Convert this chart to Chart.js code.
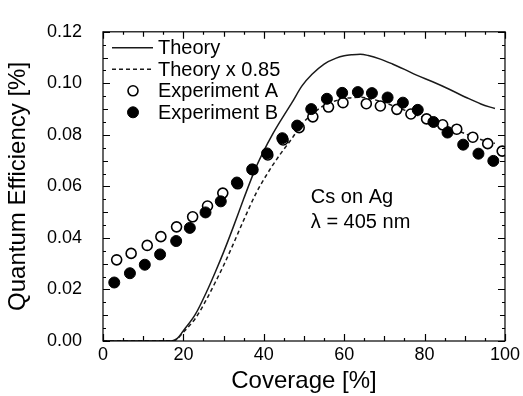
<!DOCTYPE html>
<html>
<head>
<meta charset="utf-8">
<script src="https://cdn.jsdelivr.net/npm/chart.js@4/dist/chart.umd.min.js"></script>
<style>
  body { margin: 0; background: #fff; }
  canvas { display: block; }
</style>
</head>
<body>
<canvas id="qeChart" width="523" height="396"></canvas>
<script>
/* Data */
const theoryX = [0, 5, 10, 15, 17, 18.5, 20, 23, 25.8, 28, 30, 32.4, 35, 38, 40, 42, 44, 47, 49.5, 52, 55, 58, 60, 62, 64, 66, 69, 72, 75, 78, 82, 86, 90.5, 94, 97.5];
const theoryY = [0, 0, 0, 0, 0, 0.001, 0.004, 0.0104, 0.0192, 0.027, 0.0345, 0.0442, 0.0552, 0.0672, 0.0738, 0.0797, 0.085, 0.0925, 0.099, 0.1035, 0.1075, 0.1098, 0.1107, 0.1111, 0.1113, 0.1108, 0.1094, 0.1075, 0.1054, 0.1032, 0.1006, 0.0978, 0.0944, 0.092, 0.0902];
const theory85Y = [0, 0, 0, 0, 0, 0.00085, 0.0034, 0.0088, 0.0163, 0.023, 0.0293, 0.0376, 0.0469, 0.0571, 0.0627, 0.0677, 0.0723, 0.0786, 0.0842, 0.088, 0.0914, 0.0933, 0.0941, 0.0944, 0.0946, 0.0942, 0.093, 0.0914, 0.0896, 0.0877, 0.0855, 0.0831, 0.0802, 0.0782, 0.0767];

const expAX = [3.4, 7.0, 11.0, 14.4, 18.3, 22.3, 26.0, 29.8, 33.5, 37.3, 41.0, 44.8, 48.8, 52.2, 56.1, 59.7, 65.5, 69.0, 73.1, 76.6, 80.5, 84.5, 88.0, 92.0, 95.7, 99.3];
const expAY = [0.0315, 0.034, 0.0371, 0.0405, 0.0443, 0.0482, 0.0524, 0.0574, 0.061, 0.0665, 0.0722, 0.078, 0.0828, 0.087, 0.0908, 0.0925, 0.0921, 0.0912, 0.0899, 0.0881, 0.0862, 0.0839, 0.0822, 0.0791, 0.0766, 0.0737];

const expBX = [2.8, 6.7, 10.4, 14.2, 18.2, 21.6, 25.5, 29.3, 33.3, 37.1, 40.8, 44.6, 48.3, 51.8, 55.7, 59.5, 63.4, 66.9, 70.8, 74.6, 78.3, 82.2, 85.7, 89.6, 93.4, 97.1];
const expBY = [0.0227, 0.0263, 0.0296, 0.0336, 0.0388, 0.0439, 0.0499, 0.0542, 0.0615, 0.0666, 0.0728, 0.0787, 0.0836, 0.09, 0.094, 0.0963, 0.0966, 0.0962, 0.0945, 0.0925, 0.0897, 0.085, 0.0809, 0.0762, 0.0727, 0.0699];

const xTicks = [0, 20, 40, 60, 80, 100];
const yTicks = [0, 0.02, 0.04, 0.06, 0.08, 0.10, 0.12];
const seriesNames = ['Theory', 'Theory x 0.85', 'Experiment A', 'Experiment B'];
const noteLines = ['Cs on Ag', 'λ = 405 nm'];

const FONT = '"Liberation Sans", Arial, sans-serif';

function pts(xs, ys) {
    return xs.map(function(x, i) { return { x: x, y: ys[i] }; });
}

/* Frame, inward ticks on all four sides, legend and note */
const framePlugin = {
    id: 'frame',
    afterDraw: function(chart) {
        const ctx = chart.ctx;
        const a = chart.chartArea;
        const xs = chart.scales.x;
        const ys = chart.scales.y;
        ctx.save();
        ctx.strokeStyle = '#000';
        ctx.lineWidth = 1.2;
        ctx.strokeRect(a.left, a.top, a.right - a.left, a.bottom - a.top);

        // x ticks every 5, major every 20
        for (let v = 0; v <= 100; v += 5) {
            const px = Math.round(xs.getPixelForValue(v)) + 0.5;
            const len = (v % 20 === 0) ? 7 : (v % 10 === 0 ? 5 : 3);
            ctx.beginPath();
            ctx.moveTo(px, a.bottom); ctx.lineTo(px, a.bottom - len);
            ctx.moveTo(px, a.top); ctx.lineTo(px, a.top + len);
            ctx.stroke();
        }
        // y ticks every 0.005, major every 0.02
        for (let k = 0; k <= 24; k++) {
            const py = Math.round(ys.getPixelForValue(k * 0.005)) + 0.5;
            const len = (k % 4 === 0) ? 7 : (k % 2 === 0 ? 5 : 3);
            ctx.beginPath();
            ctx.moveTo(a.left, py); ctx.lineTo(a.left + len, py);
            ctx.moveTo(a.right, py); ctx.lineTo(a.right - len, py);
            ctx.stroke();
        }

        // legend, top left inside the plot
        ctx.font = '20px ' + FONT;
        ctx.fillStyle = '#000';
        ctx.textBaseline = 'middle';
        const lx = a.left + 9;
        const tx = a.left + 55;
        let ly = a.top + 16;
        const step = 21.5;
        chart.data.datasets.forEach(function(ds, i) {
            ctx.save();
            if (ds.showLine) {
                ctx.strokeStyle = ds.borderColor;
                ctx.lineWidth = ds.borderWidth;
                ctx.setLineDash(ds.borderDash || []);
                ctx.beginPath();
                ctx.moveTo(lx, ly); ctx.lineTo(lx + 41, ly);
                ctx.stroke();
            } else {
                ctx.beginPath();
                ctx.arc(lx + 21, ly, ds.pointRadius, 0, Math.PI * 2);
                ctx.fillStyle = ds.pointBackgroundColor;
                ctx.fill();
                ctx.lineWidth = ds.pointBorderWidth;
                ctx.strokeStyle = ds.pointBorderColor;
                ctx.stroke();
            }
            ctx.restore();
            ctx.fillText(seriesNames[i], tx, ly + 1);
            ly += step;
        });

        // note text
        ctx.font = '20px ' + FONT;
        ctx.textAlign = 'left';
        const nx = xs.getPixelForValue(51.7);
        const ny = ys.getPixelForValue(0.0556);
        ctx.fillText(noteLines[0], nx, ny);
        ctx.fillText(noteLines[1], nx, ny + 25);
        ctx.restore();
    }
};

const ctx = document.getElementById('qeChart').getContext('2d');
const chart = new Chart(ctx, {
    type: 'scatter',
    data: {
        datasets: [{
            label: seriesNames[0],
            data: pts(theoryX, theoryY),
            showLine: true,
            borderColor: '#1a1a1a',
            borderWidth: 1.5,
            pointRadius: 0,
            cubicInterpolationMode: 'monotone',
            order: 4
        }, {
            label: seriesNames[1],
            data: pts(theoryX, theory85Y),
            showLine: true,
            borderColor: '#1a1a1a',
            borderWidth: 1.5,
            borderDash: [4, 3],
            pointRadius: 0,
            cubicInterpolationMode: 'monotone',
            order: 3
        }, {
            label: seriesNames[2],
            data: pts(expAX, expAY),
            pointRadius: 5,
            pointBackgroundColor: '#fff',
            pointBorderColor: '#000',
            pointBorderWidth: 1.6,
            order: 2
        }, {
            label: seriesNames[3],
            data: pts(expBX, expBY),
            pointRadius: 5.5,
            pointBackgroundColor: '#000',
            pointBorderColor: '#000',
            pointBorderWidth: 1,
            order: 1
        }]
    },
    options: {
        responsive: false,
        animation: false,
        layout: { padding: { top: 22, right: 18, left: 0, bottom: 0 } },
        plugins: {
            legend: { display: false },
            tooltip: { enabled: false }
        },
        scales: {
            x: {
                type: 'linear',
                min: 0,
                max: 100,
                afterBuildTicks: function(s) { s.ticks = xTicks.map(function(v) { return { value: v }; }); },
                afterFit: function(s) { s.height = 55; },
                ticks: { color: '#000', font: { size: 18, family: FONT }, padding: 3, maxRotation: 0 },
                grid: { display: false, drawTicks: false },
                border: { display: false },
                title: { display: true, text: 'Coverage [%]', color: '#000', font: { size: 24, family: FONT }, padding: { top: 0, bottom: 0 } }
            },
            y: {
                type: 'linear',
                min: 0,
                max: 0.12,
                afterBuildTicks: function(s) { s.ticks = yTicks.map(function(v) { return { value: v }; }); },
                afterFit: function(s) { s.width = 103; },
                ticks: {
                    color: '#000',
                    font: { size: 18, family: FONT },
                    padding: 21,
                    callback: function(v) { return v.toFixed(2); }
                },
                grid: { display: false, drawTicks: false },
                border: { display: false },
                title: { display: true, text: 'Quantum Efficiency [%]', color: '#000', font: { size: 24, family: FONT }, padding: { top: 4, bottom: 0 } }
            }
        }
    },
    plugins: [framePlugin]
});
</script>
</body>
</html>
